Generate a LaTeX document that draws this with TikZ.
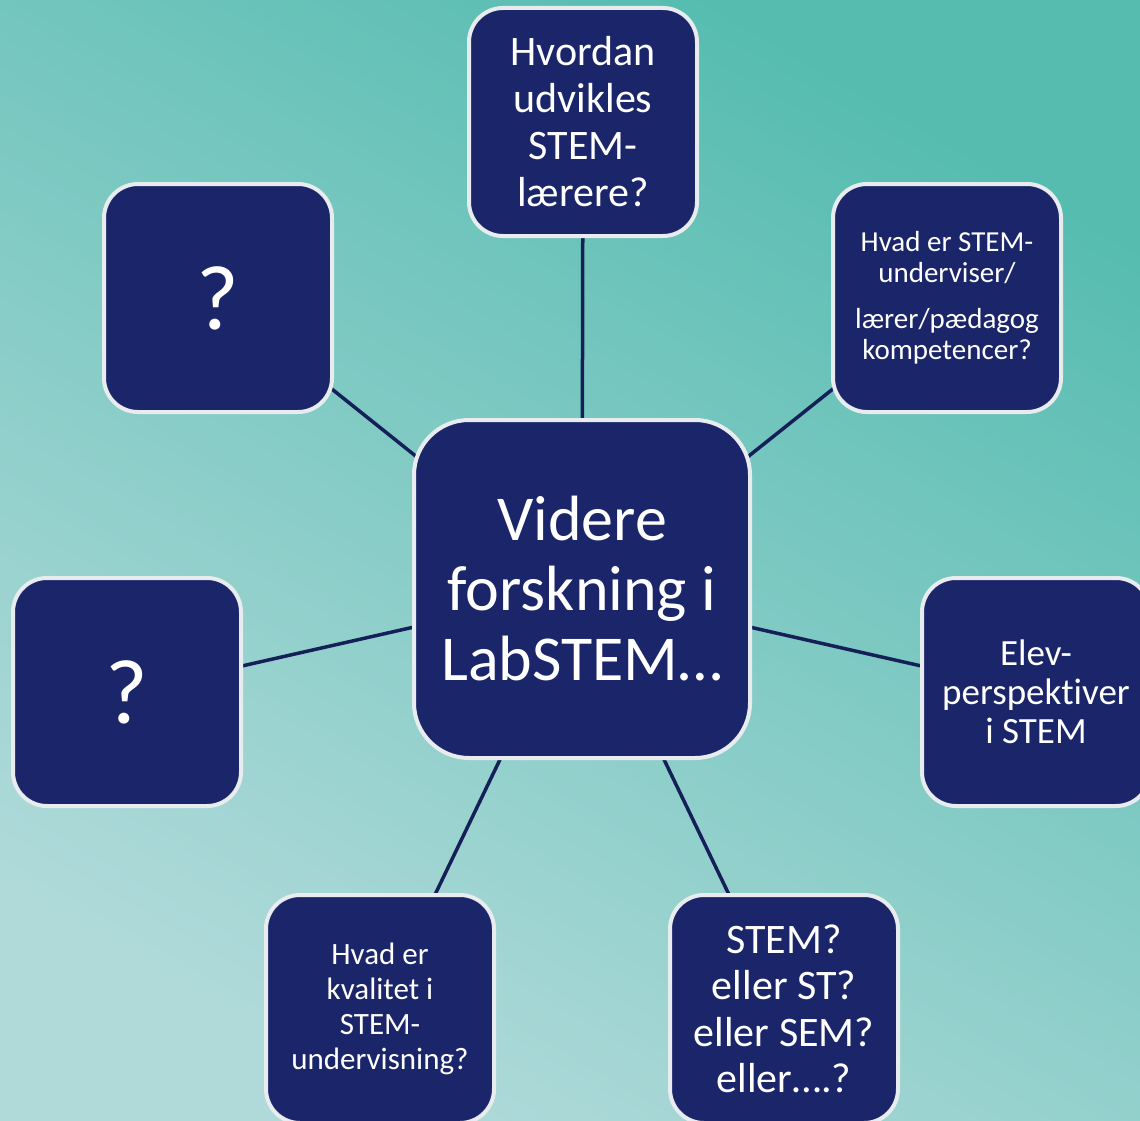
\documentclass[tikz,border=0pt]{standalone}
\usepackage{fontspec}
\setmainfont{Carlito}[Ligatures=NoCommon]
\pgfdeclarelayer{bglayer}
\pgfdeclarelayer{lines}
\pgfsetlayers{bglayer,lines,main}
\definecolor{navy}{RGB}{27,38,106}
\definecolor{linecol}{RGB}{22,32,88}
\definecolor{rim}{RGB}{232,236,238}
\definecolor{bglight}{RGB}{176,218,218}
\definecolor{bgdark}{RGB}{86,188,176}
\begin{document}
\begin{tikzpicture}[x=1pt,y=-1pt,
  topic/.style={draw=rim, line width=4pt, fill=navy, text=white,
    rounded corners=34pt, align=center, inner sep=0pt,
    minimum width=228pt, minimum height=228pt},
  link/.style={draw=linecol, line width=3.5pt}]
\useasboundingbox (0,0) rectangle (1140,1121);
\begin{pgfonlayer}{bglayer}
  \shade[left color=bgdark, right color=bglight, shading angle=-30]
    (0,0) rectangle (1140,1121);
\end{pgfonlayer}

\node[topic, minimum width=336pt, minimum height=338pt, rounded corners=55pt,
  font={\fontsize{64}{70}\selectfont}] (c) at (582,589)
  {Videre\\forskning i\\LabSTEM…};

\node[topic, font={\fontsize{42}{47}\selectfont}] (t) at (583,122)
  {Hvordan\\udvikles\\STEM-\\lærere?};

\node[topic, font={\fontsize{29}{31.5}\selectfont}] (tr) at (947,298)
  {Hvad er STEM-\\underviser/\\[14pt]lærer/pædagog\\kompetencer?};

\node[topic, font={\fontsize{92}{100}\selectfont}] (tl) at (218,298) {?};

\node[topic, font={\fontsize{92}{100}\selectfont}] (l) at (127,692) {?};

\node[topic, font={\fontsize{37}{39}\selectfont}] (r) at (1036,692)
  {Elev-\\perspektiver\\i STEM};

\node[topic, font={\fontsize{31}{35}\selectfont}] (bl) at (380,1009)
  {Hvad er\\kvalitet i\\STEM-\\undervisning?};

\node[topic, font={\fontsize{42}{46.5}\selectfont}] (br) at (784,1009)
  {STEM?\\eller ST?\\eller SEM?\\eller….?};

\begin{pgfonlayer}{lines}
  \draw[link] (c.center) -- (t.center);
  \draw[link] (c.center) -- (tr.center);
  \draw[link] (c.center) -- (tl.center);
  \draw[link] (c.center) -- (l.center);
  \draw[link] (c.center) -- (r.center);
  \draw[link] (c.center) -- (bl.center);
  \draw[link] (c.center) -- (br.center);
\end{pgfonlayer}
\end{tikzpicture}
\end{document}
